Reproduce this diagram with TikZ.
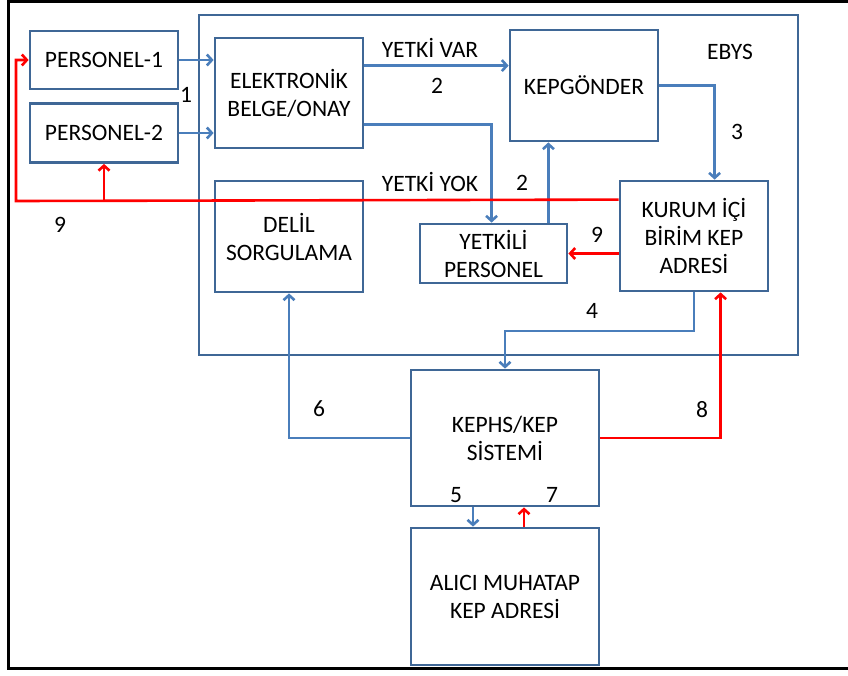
\documentclass[tikz,border=0pt]{standalone}
\usepackage{fontspec}
\setmainfont{Carlito}
\usetikzlibrary{arrows.meta,calc}
\definecolor{boxblue}{HTML}{3F6796}
\definecolor{lineblue}{HTML}{4A7EBB}
\definecolor{redline}{HTML}{FF0000}
\begin{document}
\begin{tikzpicture}[x=1pt,y=-1pt,
  every node/.style={font=\fontsize{23.5}{28}\selectfont, text=black},
  box/.style={draw=boxblue, line width=2.8pt, rectangle, inner sep=0pt, align=center},
  lbl/.style={inner sep=0pt},
  bluearr/.style={draw=lineblue, line width=2.6pt, -{Straight Barb[length=5pt,width=11pt]}},
  redarr/.style={draw=redline, line width=2.6pt, -{Straight Barb[length=5pt,width=11pt]}},
  redln/.style={draw=redline, line width=2.6pt}]
\useasboundingbox (0,0) rectangle (848,675);
% outer frame
\draw[black, line width=3pt] (848,1.5) -- (8,1.5) -- (8,668) -- (848,668);
% EBYS container
\node[box, minimum width=599pt, minimum height=340pt] (ebys) at (498.5,185) {};
% boxes
\node[box, minimum width=148pt, minimum height=58pt] (p1) at (104,60) {PERSONEL-1};
\node[box, minimum width=148pt, minimum height=59pt] (p2) at (104,133) {PERSONEL-2};
\node[box, minimum width=148pt, minimum height=110pt] (elek) at (289,93) {ELEKTRONİK\\BELGE/ONAY};
\node[box, minimum width=148pt, minimum height=111pt] (kepg) at (584,85.5) {KEPGÖNDER};
\node[box, minimum width=148pt, minimum height=110pt] (kurum) at (694,236) {KURUM İÇİ\\BİRİM KEP\\ADRESİ};
\node[box, minimum width=148pt, minimum height=111pt] (delil) at (289,236.5) {DELİL\\SORGULAMA};
\node[box, minimum width=147pt, minimum height=59pt] (yetk) at (493.5,253.5) {YETKİLİ\\PERSONEL};
\node[box, minimum width=188pt, minimum height=136pt] (kephs) at (505,438) {KEPHS/KEP\\SİSTEMİ};
\node[box, minimum width=188pt, minimum height=137pt] (alici) at (505,596.5) {ALICI MUHATAP\\KEP ADRESİ};
% labels
\node[lbl] (lvar) at (430,48) {YETKİ VAR};
\node[lbl] (l2a) at (437,86) {2};
\node[lbl] (lebys) at (730,52) {EBYS};
\node[lbl] (l3) at (737,132) {3};
\node[lbl] (lyok) at (430,182) {YETKİ YOK};
\node[lbl] (l2b) at (522,183) {2};
\node[lbl] (l9a) at (597,235) {9};
\node[lbl] (l1) at (186,95) {1};
\node[lbl] (l9b) at (60,225) {9};
\node[lbl] (l4) at (592,311) {4};
\node[lbl] (l6) at (319,409) {6};
\node[lbl] (l8) at (702,410) {8};
\node[lbl] (l5) at (456,495) {5};
\node[lbl] (l7) at (552,495) {7};
% blue connectors
\draw[bluearr] (p1.east) -- (p1.east -| elek.west);
\draw[bluearr] (p2.east) -- (p2.east -| elek.west);
\draw[bluearr] ([yshift=-29pt]elek.north east) -- ([yshift=-29pt]elek.north east -| kepg.west);
\draw[bluearr] ([yshift=25pt]elek.south east) -| ([xshift=73pt]yetk.north west);
\draw[bluearr] ([xshift=-20pt]yetk.north east) -- ([xshift=-20pt]yetk.north east |- kepg.south);
\draw[bluearr] (kepg.east) -| ([xshift=96pt]kurum.north west);
\coordinate (c4) at (694,331);
\draw[bluearr] (c4 |- kurum.south) -- (c4) -| (kephs.north);
\draw[bluearr] (kephs.west) -| (delil.south);
\draw[bluearr] ([xshift=-32pt]kephs.south) -- ([xshift=-32pt]kephs.south |- alici.north);
% red connectors
\draw[redarr] (kurum.west |- yetk.east) -- (yetk.east);
\coordinate (rl) at (16,201);
\coordinate (rb) at (104,201);
\draw[redarr] ([yshift=-20pt]kurum.north west) -- (rl) |- (p1.west);
\draw[redarr] (rb) -- (rb |- p2.south);
\draw[redarr] (kephs.east) -| ([xshift=102pt]kurum.south west);
\draw[redarr] ([xshift=19pt]alici.north) -- ([xshift=19pt]alici.north |- kephs.south);
\end{tikzpicture}
\end{document}
